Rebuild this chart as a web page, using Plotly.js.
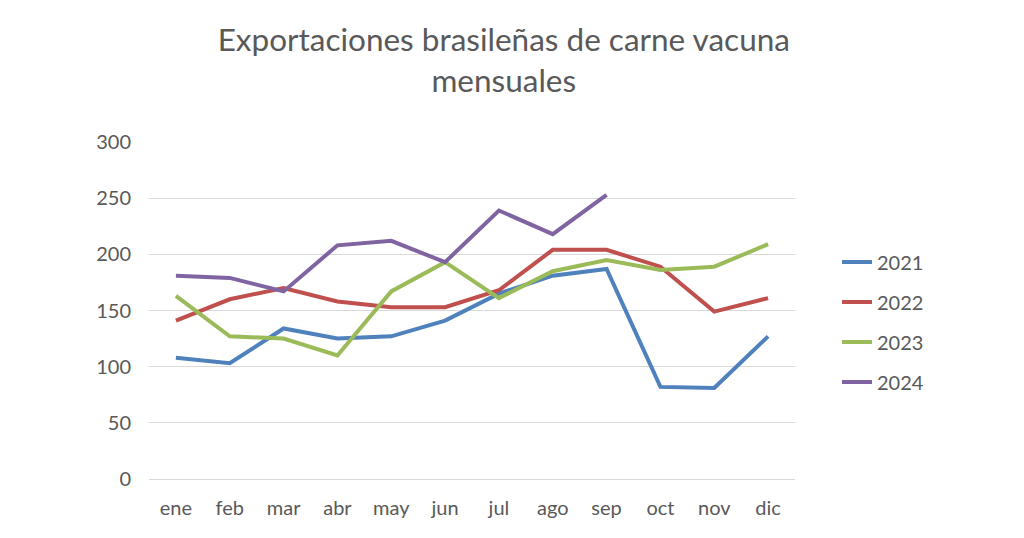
<!DOCTYPE html>
<html>
<head>
<meta charset="utf-8">
<script src="https://cdn.plot.ly/plotly-3.0.1.min.js"></script>
<style>
  html, body { margin: 0; padding: 0; background: #ffffff; }
  #chart { width: 1024px; height: 538px; }
</style>
</head>
<body>
<div id="chart"></div>
<script>
const MONTHS = ['ene', 'feb', 'mar', 'abr', 'may', 'jun', 'jul', 'ago', 'sep', 'oct', 'nov', 'dic'];

const Y2021 = [108, 103, 134, 125, 127, 141, 165, 181, 187, 82, 81, 127];
const Y2022 = [141, 160, 170, 158, 153, 153, 168, 204, 204, 189, 149, 161];
const Y2023 = [163, 127, 125, 110, 167, 193, 161, 185, 195, 186, 189, 209];
const Y2024 = [181, 179, 167, 208, 212, 193, 239, 218, 253];

const SERIES = [
  {name: '2021', values: Y2021, color: '#4f81bd'},
  {name: '2022', values: Y2022, color: '#c0504d'},
  {name: '2023', values: Y2023, color: '#9bbb59'},
  {name: '2024', values: Y2024, color: '#8064a2'},
];

const TEXT_GREY = '#595959';
const FONT = 'Lato, "Open Sans", sans-serif';

const traces = SERIES.map((s) => ({
  x: MONTHS.slice(0, s.values.length),
  y: s.values,
  name: s.name,
  legendgroup: s.name,
  mode: 'lines',
  line: {color: s.color, width: 4},
  hoverinfo: 'x+y+name',
}));

const layout = {
  width: 1024,
  height: 538,
  margin: {l: 149, r: 229, t: 142, b: 59},
  paper_bgcolor: '#ffffff',
  plot_bgcolor: '#ffffff',
  font: {family: FONT, color: TEXT_GREY, size: 20},
  title: {
    text: 'Exportaciones brasileñas de carne vacuna<br>mensuales',
    font: {family: FONT, size: 31.5, color: TEXT_GREY},
    x: 0.492,
    xanchor: 'center',
    y: 0.905,
    yanchor: 'top',
  },
  xaxis: {
    type: 'category',
    range: [-0.5, 11.5],
    showgrid: false,
    zeroline: false,
    showline: false,
    ticks: '',
    tickfont: {size: 20, color: TEXT_GREY},
    ticklabelstandoff: 15,
  },
  yaxis: {
    range: [0, 300],
    dtick: 50,
    showgrid: true,
    gridcolor: '#d9d9d9',
    gridwidth: 1,
    zeroline: true,
    zerolinecolor: '#d9d9d9',
    zerolinewidth: 1,
    showline: false,
    ticks: '',
    tickfont: {size: 20, color: TEXT_GREY},
    ticklabelstandoff: 17,
  },
  showlegend: true,
  legend: {
    x: 1.065,
    xanchor: 'left',
    y: 0.702,
    yanchor: 'top',
    font: {size: 20, color: TEXT_GREY},
    tracegroupgap: 11,
    bgcolor: 'rgba(0,0,0,0)',
  },
};

Plotly.newPlot('chart', traces, layout, {displayModeBar: false, staticPlot: true});
</script>
</body>
</html>
